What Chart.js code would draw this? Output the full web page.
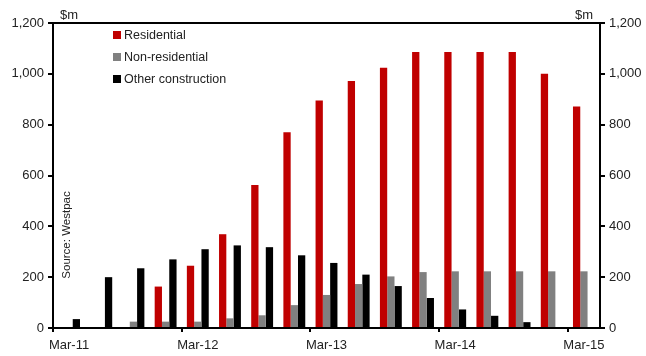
<!DOCTYPE html>
<html><head><meta charset="utf-8">
<script src="https://cdn.jsdelivr.net/npm/chart.js@4"></script>
<style>html,body{margin:0;padding:0;background:#fff}#wrap{width:646px;height:356px;position:relative}</style>
</head><body><div id="wrap"><canvas id="c"></canvas></div>
<script>
const categories = ["Mar-11","Jun-11","Sep-11","Dec-11","Mar-12","Jun-12","Sep-12","Dec-12","Mar-13","Jun-13","Sep-13","Dec-13","Mar-14","Jun-14","Sep-14","Dec-14","Mar-15"];
const residential = [0,0,0,163,245,369,563,770,895,972,1024,1086,1086,1086,1086,1000,871];
const nonResidential = [0,0,25,25,25,38,50,90,130,173,203,220,223,223,223,223,223];
const otherConstruction = [35,200,235,270,310,325,318,286,256,210,165,118,73,48,23,0,0];
const yTicks = [0,200,400,600,800,1000,1200];
const FONT = "'Liberation Sans', Arial, sans-serif";

const overlay = {
  id:'overlay',
  afterDraw(chart){
    const {ctx, chartArea:a} = chart;
    ctx.save();
    ctx.strokeStyle='#000'; ctx.lineWidth=2;
    ctx.strokeRect(a.left, a.top, a.right-a.left, a.bottom-a.top);
    ctx.fillStyle='#222';
    ctx.font = "13px "+FONT;
    ctx.textBaseline='middle';
    ctx.textAlign='left'; ctx.fillText('$m', a.left+7, a.top-8);
    ctx.textAlign='right'; ctx.fillText('$m', a.right-7, a.top-8);
    // legend
    chart.data.datasets.forEach((ds,i)=>{
      const x=a.left+60, y=a.top+12+i*22;
      ctx.fillStyle=ds.backgroundColor; ctx.fillRect(x,y-4,8,8);
      ctx.fillStyle='#222'; ctx.textAlign='left'; ctx.font="12.5px "+FONT;
      ctx.fillText(ds.label, x+11, y+1);
    });
    // source
    ctx.translate(a.left+14, a.top+212);
    ctx.rotate(-Math.PI/2);
    ctx.font="11.5px "+FONT; ctx.textAlign='center'; ctx.fillStyle='#222';
    ctx.fillText('Source: Westpac',0,0);
    ctx.restore();
  }
};

const yAxis = (pos, w) => ({
  position: pos, min:0, max:1200,
  afterBuildTicks(s){ s.ticks = yTicks.map(v=>({value:v})); },
  afterFit(s){ s.width = w; },
  border:{display:false},
  grid:{drawOnChartArea:false, drawTicks:true, tickLength:5, color:'#000', lineWidth:2},
  ticks:{color:'#222', font:{family:FONT,size:13}, padding:4,
    callback:v=>v.toLocaleString('en-US')}
});

new Chart(document.getElementById('c'), {
  type:'bar',
  data:{labels:categories, datasets:[
    {label:'Residential', data:residential, backgroundColor:'#c00000', yAxisID:'y'},
    {label:'Non-residential', data:nonResidential, backgroundColor:'#808080', yAxisID:'y'},
    {label:'Other construction', data:otherConstruction, backgroundColor:'#000000', yAxisID:'y'}
  ]},
  options:{
    responsive:true, maintainAspectRatio:false, animation:false,
    layout:{padding:{top:23,left:0,right:0,bottom:0}},
    categoryPercentage:0.68, barPercentage:1.0,
    plugins:{legend:{display:false}, tooltip:{enabled:false}},
    scales:{
      x:{
        offset:true,
        afterFit(s){ s.height = 28; },
        border:{display:false},
        grid:{offset:true, drawOnChartArea:false, tickLength:4, lineWidth:2,
          tickColor:c=> (c.index%4===0 && c.index<17) ? '#000' : 'rgba(0,0,0,0)'},
        ticks:{autoSkip:false, maxRotation:0, color:'#222', font:{family:FONT,size:13},
          padding:6,
          callback:(v,i)=> i%4===0 ? categories[i] : ''}
      },
      y: yAxis('left',53),
      y2: yAxis('right',46)
    }
  },
  plugins:[overlay]
});
</script></body></html>
